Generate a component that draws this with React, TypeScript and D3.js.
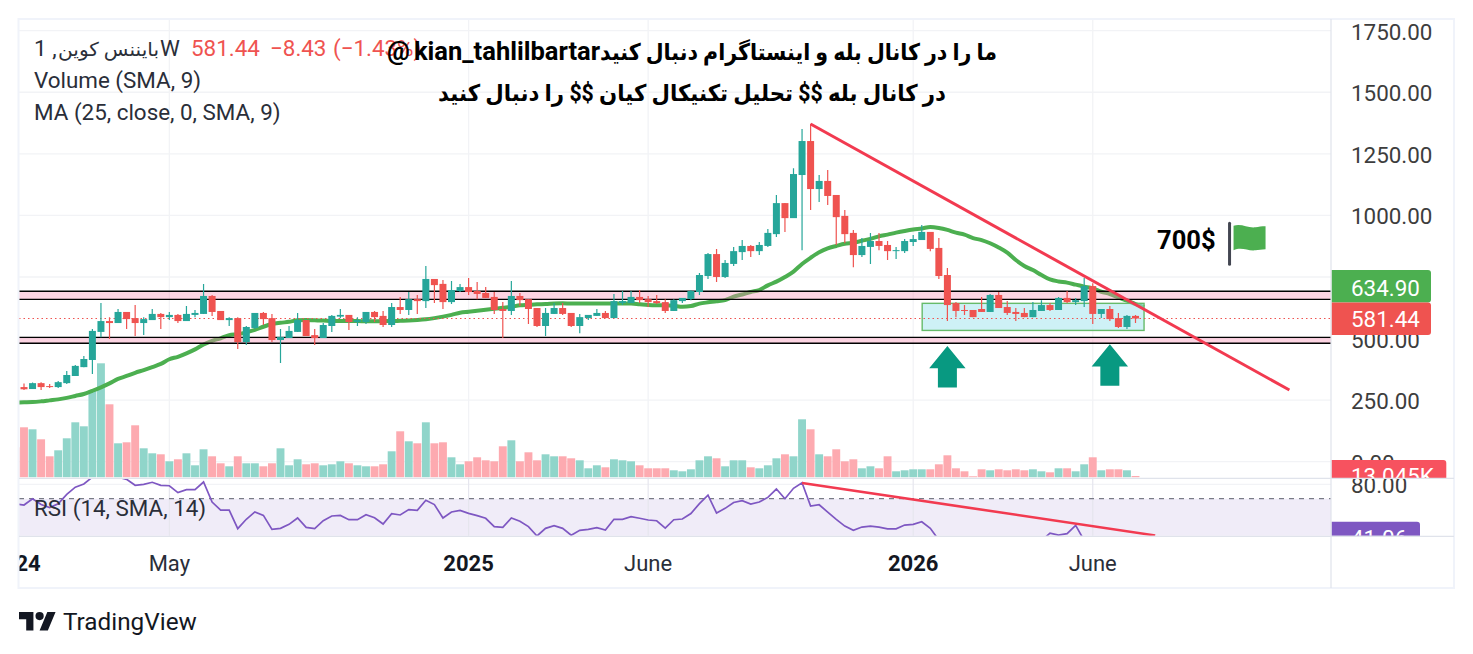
import React from "react";
import * as d3 from "d3";

// Weekly candles; index 0 is the first whole candle, the array starts one candle earlier.
const firstIndex = -1;
const open = [311,303,295,319,307,303,319,348,384,413,527,571,563,608,583,563,575,600,587,596,571,596,600,673,612,575,583,486,543,604,583,494,502,527,575,514,502,551,589,596,567,567,608,592,555,628,616,660,652,742,722,648,693,709,693,685,669,620,612,673,660,624,551,600,624,604,551,583,592,604,583,644,644,669,660,652,648,612,652,661,689,754,843,750,803,851,876,855,876,924,1050,989,1164,1302,1107,1140,1083,998,929,839,872,896,880,857,855,892,900,933,868,758,644,616,616,620,608,677,628,608,604,587,612,636,616,665,648,652,713,600,620,583,547,592];
const high = [315,318,322,323,315,328,368,393,429,539,644,587,620,608,636,587,620,604,608,600,632,616,722,677,612,587,587,551,604,608,600,539,551,604,575,539,563,596,620,596,587,608,612,612,644,669,689,677,795,742,738,734,722,746,730,709,689,648,734,685,660,624,624,644,644,604,600,596,620,612,681,693,693,697,673,677,660,660,665,697,766,847,864,819,872,900,880,892,945,1083,1050,1192,1351,1372,1164,1184,1083,1022,941,908,929,929,896,872,904,920,961,933,908,786,648,636,616,669,681,689,652,624,624,648,656,644,669,693,665,746,725,620,632,604,596,596];
const low = [298,291,295,291,299,299,315,348,384,356,505,498,563,539,510,514,575,539,575,563,571,587,600,592,575,551,458,474,539,555,486,401,502,527,510,474,502,527,582,535,551,559,567,547,547,600,596,600,624,644,620,640,689,677,660,665,600,502,596,632,559,547,510,600,596,547,522,575,592,583,583,636,644,644,628,640,604,612,644,656,677,742,730,746,795,819,831,839,872,912,933,989,859,1022,1054,1042,880,887,790,831,803,859,819,823,847,876,900,855,742,571,587,596,587,608,608,624,596,571,587,587,612,612,616,644,636,628,559,583,571,543,539,563];
const close = [302,294,319,303,303,323,352,389,417,531,571,563,608,579,563,579,600,587,596,571,600,604,673,608,575,583,486,547,604,579,494,506,531,575,510,502,555,592,596,567,575,608,587,555,628,616,660,652,742,717,648,697,709,689,681,665,616,612,673,656,620,551,604,624,600,551,587,596,604,583,652,652,669,656,648,644,612,656,665,693,758,843,750,807,855,876,855,880,929,1050,989,1168,1302,1107,1140,1079,993,924,839,876,896,876,855,859,896,904,933,864,754,636,612,612,587,608,677,624,604,600,587,616,636,616,665,648,656,713,600,620,579,547,592,581.44];
// Volume in thousands
const volume = [300,500,480,380,210,270,390,550,510,870,1140,730,340,350,520,290,240,230,160,180,240,120,280,210,140,110,210,140,140,110,140,290,120,180,130,140,120,130,160,140,120,110,110,130,260,460,360,340,550,340,350,200,130,160,200,170,160,310,370,160,250,170,230,210,210,190,170,90,120,100,180,170,160,120,90,90,90,70,60,80,170,210,190,110,170,170,100,90,120,190,230,210,580,480,230,210,280,160,180,90,110,90,210,60,70,80,80,80,130,220,90,60,10,80,70,80,70,80,70,80,60,50,90,90,60,130,200,70,80,80,70,13.045];
const maValues = [240,241,242,245,249,253,259,267,275,288,302,318,336,348,361,372,384,397,416,426,440,456,476,491,501,514,518,525,535,548,559,564,568,574,575,574,573,571,571,571,571,570,570,571,571,572,573,575,578,583,589,596,605,609,613,617,621,625,629,635,637,639,640,642,643,642,642,642,642,642,642,642,642,639,636,635,635,633,629,632,642,647,651,656,670,679,689,697,716,731,750,772,803,828,850,866,876,885,889,897,905,915,922,930,937,943,947,953,949,941,930,922,908,900,887,870,849,819,795,778,758,740,732,727,719,711,704,690,681,667,654,640,628];
const rsiValues = [66.5,65.6,70,66,63.8,66.5,73,78,80.2,85,88,88,85,83.4,79.3,80,81.4,79.3,79,74.2,76.3,76.3,81.6,67.7,62.1,62.1,49.2,55.7,60.8,58.4,48.7,49.4,52.2,56.6,50.1,49.2,54.7,58,58.4,55.4,55.4,58.9,56.8,52.4,59.6,58.7,62.4,61.9,68.9,65.9,56.6,60.8,61.9,59.8,58.2,56.4,50.6,50.1,56.6,54.3,50.6,44.1,49.4,51.3,49.4,44.6,48,48.7,49.9,48.3,55.7,55.7,57.5,56.4,55.2,54.7,49.6,55.4,55.9,59.7,66.6,72.5,60,63.3,67.4,68.6,66.3,67.7,70.9,76.7,70,77.2,81.1,64.9,65.8,60.7,55.6,51,48,50.3,51,50.3,49.1,49.1,51.7,52.2,54,49.4,41.3,38,35,34,33,36,37,35,34,35,36,38,40.8,46.1,44.7,45.7,51.5,41,43,42,38,39,41.06];

const priceTicks = [1750,1500,1250,1000,750,500,250,0];
const rsiTicks = [80];
const timeTicks = [
  { index: -1, label: "2024", bold: true },
  { index: 17, label: "May", bold: false },
  { index: 52, label: "2025", bold: true },
  { index: 73, label: "June", bold: false },
  { index: 104, label: "2026", bold: true },
  { index: 125, label: "June", bold: false },
];
const supportBands = [[692, 659], [505, 481]];
const rangeBox = { from: 105.05, to: 131, top: 643, bottom: 533 };
const priceTrend = [{ i: 92, v: 1371 }, { i: 148, v: 291 }];
const rsiTrend = [{ i: 91, v: 80.9 }, { i: 132.3, v: 44.5 }];
const arrowSpots = [{ i: 108, v: 470 }, { i: 127, v: 477 }];
const flagSpot = { i: 141, v: 960 };
const lastPrice = 581.44;
const lastMa = 634.9;
const lastVolume = "13.045K";
const lastRsi = "41.06";

const L = 19, R = 1331, OUT = 1454;
const FONT = "Roboto, 'DejaVu Sans', sans-serif";
const UP = "#26a69a", DOWN = "#ef5350", GRID = "#f2f3f6";
const AXIS_TEXT = "#3d3d3d";

const x = d3.scaleLinear().domain([0, 130]).range([24, 1135.5]);
const y = d3.scaleLinear().domain([0, 1750]).range([461.7, 30.7]);
const yVol = d3.scaleLinear().domain([0, 1000]).range([477.3, 377.3]);
const yRsi = d3.scaleLinear().domain([70, 80]).range([498.7, 484.3]);

const at = (k: number) => k + firstIndex;
const maLine = d3.line<number>().x((_, k) => x(at(k))).y((d) => y(d)).curve(d3.curveMonotoneX);
const rsiLine = d3.line<number>().x((_, k) => x(at(k))).y((d) => yRsi(d));

function tag(top: number, h: number, right: number) {
  const r = 3;
  return `M${R} ${top}H${right - r}Q${right} ${top} ${right} ${top + r}V${top + h - r}Q${right} ${top + h} ${right - r} ${top + h}H${R}Z`;
}

export default function App() {
  return (
    <svg width={1473} height={654} viewBox="0 0 1473 654"
      style={{ position: "absolute", left: 0, top: 0, display: "block", background: "#fff" }}
      fontFamily={FONT}>
      <defs>
        <clipPath id="main"><rect x={L} y={20} width={R - L} height={457.8} /></clipPath>
        <clipPath id="rsi"><rect x={L} y={478.8} width={R - L} height={57} /></clipPath>
        <clipPath id="axisMain"><rect x={R + 0.5} y={20} width={OUT - R - 2} height={458} /></clipPath>
        <clipPath id="axisRsi"><rect x={R + 0.5} y={478.8} width={OUT - R - 2} height={57} /></clipPath>
        <clipPath id="time"><rect x={L} y={537} width={R - L} height={50} /></clipPath>
      </defs>

      {/* grid */}
      {priceTicks.map((t) => (
        <line key={t} x1={L} x2={R} y1={y(t)} y2={y(t)} stroke={GRID} strokeWidth={1.3} />
      ))}
      {timeTicks.map((t) => (
        <line key={t.index} x1={x(t.index)} x2={x(t.index)} y1={20} y2={536} stroke={GRID} strokeWidth={1.3} clipPath="url(#main)" />
      ))}

      {/* volume */}
      <g clipPath="url(#main)">
        {volume.map((v, k) => (
          <rect key={k} x={x(at(k)) - 3.95} width={7.9} y={yVol(v)} height={yVol(0) - yVol(v)}
            fill={close[k] >= open[k] ? "#90d5ca" : "#fdaab0"} />
        ))}
      </g>

      {/* RSI pane */}
      <g clipPath="url(#rsi)">
        <rect x={L} y={yRsi(70)} width={R - L} height={536 - yRsi(70)} fill="#f0ecf8" />
        {rsiTicks.map((t) => (
          <line key={t} x1={L} x2={R} y1={yRsi(t)} y2={yRsi(t)} stroke={GRID} strokeWidth={1.3} />
        ))}
        {timeTicks.map((t) => (
          <line key={t.index} x1={x(t.index)} x2={x(t.index)} y1={478} y2={536} stroke="#e6e6ee" strokeWidth={1.2} />
        ))}
        <line x1={L} x2={R} y1={yRsi(70)} y2={yRsi(70)} stroke="#787b86" strokeWidth={1.2} strokeDasharray="5 5" />
        <path d={rsiLine(rsiValues) ?? ""} fill="none" stroke="#7e57c2" strokeWidth={1.7} />
        <line x1={x(rsiTrend[0].i)} x2={x(rsiTrend[1].i)} y1={yRsi(rsiTrend[0].v)} y2={yRsi(rsiTrend[1].v)} stroke="#f23a50" strokeWidth={2.6} />
      </g>

      {/* moving average, then the zones over it, then candles */}
      <g clipPath="url(#main)">
        <path d={maLine(maValues) ?? ""} fill="none" stroke="#4caf50" strokeWidth={4} />
        {supportBands.map(([a, b]) => (
          <g key={a}>
            <rect x={L} width={R - L} y={y(a)} height={y(b) - y(a)} fill="#f78fb3" fillOpacity={0.38} />
            <line x1={L} x2={R} y1={y(a)} y2={y(a)} stroke="#000" strokeWidth={1.4} />
            <line x1={L} x2={R} y1={y(b)} y2={y(b)} stroke="#000" strokeWidth={1.4} />
          </g>
        ))}
        <rect x={x(rangeBox.from)} width={x(rangeBox.to) - x(rangeBox.from)} y={y(rangeBox.top)}
          height={y(rangeBox.bottom) - y(rangeBox.top)} fill="#a5e6ee" fillOpacity={0.55} stroke="#66bb6a" strokeWidth={1.4} />
        <line x1={L} x2={R} y1={y(lastPrice)} y2={y(lastPrice)} stroke={DOWN} strokeWidth={1.1} strokeDasharray="1.5 3" />
        {open.map((o, k) => {
          const c = close[k];
          const col = c >= o ? UP : DOWN;
          const top = y(Math.max(o, c));
          const bot = y(Math.min(o, c));
          const cx = x(at(k));
          return (
            <g key={k}>
              <line x1={cx} x2={cx} y1={y(high[k])} y2={y(low[k])} stroke={col} strokeWidth={1.2} />
              <rect x={cx - 3.5} width={7} y={top} height={Math.max(bot - top, 1)} fill={col} />
            </g>
          );
        })}
        <line x1={x(priceTrend[0].i)} x2={x(priceTrend[1].i)} y1={y(priceTrend[0].v)} y2={y(priceTrend[1].v)} stroke="#f23a50" strokeWidth={3} />
        {arrowSpots.map((a) => {
          const cx = x(a.i), ty = y(a.v);
          return (
            <path key={a.i} fill="#089981"
              d={`M${cx} ${ty}L${cx + 18.2} ${ty + 22.3}H${cx + 9.5}V${ty + 41.6}H${cx - 9.5}V${ty + 22.3}H${cx - 18.2}Z`} />
          );
        })}
      </g>

      {/* 700$ flag */}
      <g transform={`translate(${x(flagSpot.i)},${y(flagSpot.v)})`}>
        <line x1={0} x2={0} y1={-2} y2={39} stroke="#434651" strokeWidth={3} strokeLinecap="round" />
        <path fill="#4caf50" d="M4 0.5C12 -2 18 3 26 2C29 1.6 32 1 36 1V24C32 24 29 24.8 26 25C18 26 12 21 4 25Z" />
        <text x={-14} y={24} textAnchor="end" fontSize={25.5} fontWeight={700} fill="#000">700$</text>
      </g>

      {/* legends */}
      <g fontSize={22.4} fill="#2a2e39">
        <text x={34} y={56}>1 ,</text>
        <text x={159} y={56} direction="rtl" textAnchor="start" fontSize={19} textLength={101} lengthAdjust="spacingAndGlyphs">بایننس کوین</text>
        <text x={160} y={56}>W</text>
        <text x={191} y={56} fill={DOWN}>581.44</text>
        <text x={270} y={56} fill={DOWN}>−8.43</text>
        <text x={333} y={56} fill={DOWN}>(−1.43%)</text>
        <text x={34} y={88}>Volume (SMA, 9)</text>
        <text x={34} y={120}>MA (25, close, 0, SMA, 9)</text>
        <text x={34} y={516}>RSI (14, SMA, 14)</text>
      </g>

      {/* overlay notes */}
      <g fontWeight={700} fill="#000" fontSize={25.5}>
        <text x={997} y={60} direction="rtl" textAnchor="start" fontSize={23} textLength={397} lengthAdjust="spacingAndGlyphs">ما را در کانال بله و اینستاگرام دنبال کنید</text>
        <text x={600} y={60} textAnchor="end">kian_tahlilbartar</text>
        <text x={387} y={60}>@</text>
        <text x={946} y={101} direction="rtl" textAnchor="start" fontSize={23} textLength={508} lengthAdjust="spacingAndGlyphs">در کانال بله $$ تحلیل تکنیکال کیان $$ را دنبال کنید</text>
      </g>

      {/* price axis */}
      <g clipPath="url(#axisMain)">
        {priceTicks.map((t) => (
          <text key={t} x={1351} y={y(t) + 9} fontSize={22.4} fill={AXIS_TEXT}>{t.toFixed(2)}</text>
        ))}
        <path d={tag(270, 32.4, 1431)} fill="#4caf50" />
        <text x={1351} y={296} fontSize={22.4} fill="#fff">{lastMa.toFixed(2)}</text>
        <path d={tag(302.4, 32.6, 1431)} fill={DOWN} />
        <text x={1351} y={326.7} fontSize={22.4} fill="#fff">{lastPrice.toFixed(2)}</text>
        <path d={tag(460, 32, 1446.3)} fill="#f7525f" />
        <text x={1351} y={484} fontSize={22.4} fill="#fff">{lastVolume}</text>
      </g>
      <g clipPath="url(#axisRsi)">
        <path d={tag(521.7, 32, 1420)} fill="#7e57c2" />
        <text x={1351} y={545.5} fontSize={22.4} fill="#fff">{lastRsi}</text>
        {rsiTicks.map((t) => (
          <text key={t} x={1351} y={yRsi(t) + 8.5} fontSize={22.4} fill={AXIS_TEXT}>{t.toFixed(2)}</text>
        ))}
      </g>

      {/* time axis */}
      <g clipPath="url(#time)">
        {timeTicks.map((t) => (
          <text key={t.index} x={x(t.index)} y={571} textAnchor="middle" fontSize={22} fontWeight={t.bold ? 700 : 400} fill={t.bold ? "#131722" : "#2a2e39"}>{t.label}</text>
        ))}
      </g>

      {/* frame and separators */}
      <rect x={18.5} y={19} width={OUT - 18.5} height={569} fill="none" stroke="#f0f3fa" strokeWidth={2} />
      <line x1={L} x2={R} y1={478.3} y2={478.3} stroke="#e0e3eb" strokeWidth={1.2} />
      <line x1={L} x2={R} y1={536.3} y2={536.3} stroke="#e0e3eb" strokeWidth={1.2} />
      <line x1={R} x2={OUT} y1={478.3} y2={478.3} stroke="#e0e3eb" strokeWidth={1.2} />
      <line x1={R} x2={OUT} y1={536.3} y2={536.3} stroke="#e0e3eb" strokeWidth={1.2} />
      <line x1={R} x2={R} y1={19} y2={588} stroke="#e0e3eb" strokeWidth={1.2} />

      {/* brand */}
      <g transform="translate(19,612) scale(1.03)" fill="#131722">
        <path d="M14 22H7V11H0V4h14v18zM28 22h-8l7.5-18h8L28 22z" transform="translate(0,-4)" />
        <circle cx={20} cy={4} r={4} />
      </g>
      <text x={63} y={630} fontSize={24.3} fill="#131722">TradingView</text>
    </svg>
  );
}
